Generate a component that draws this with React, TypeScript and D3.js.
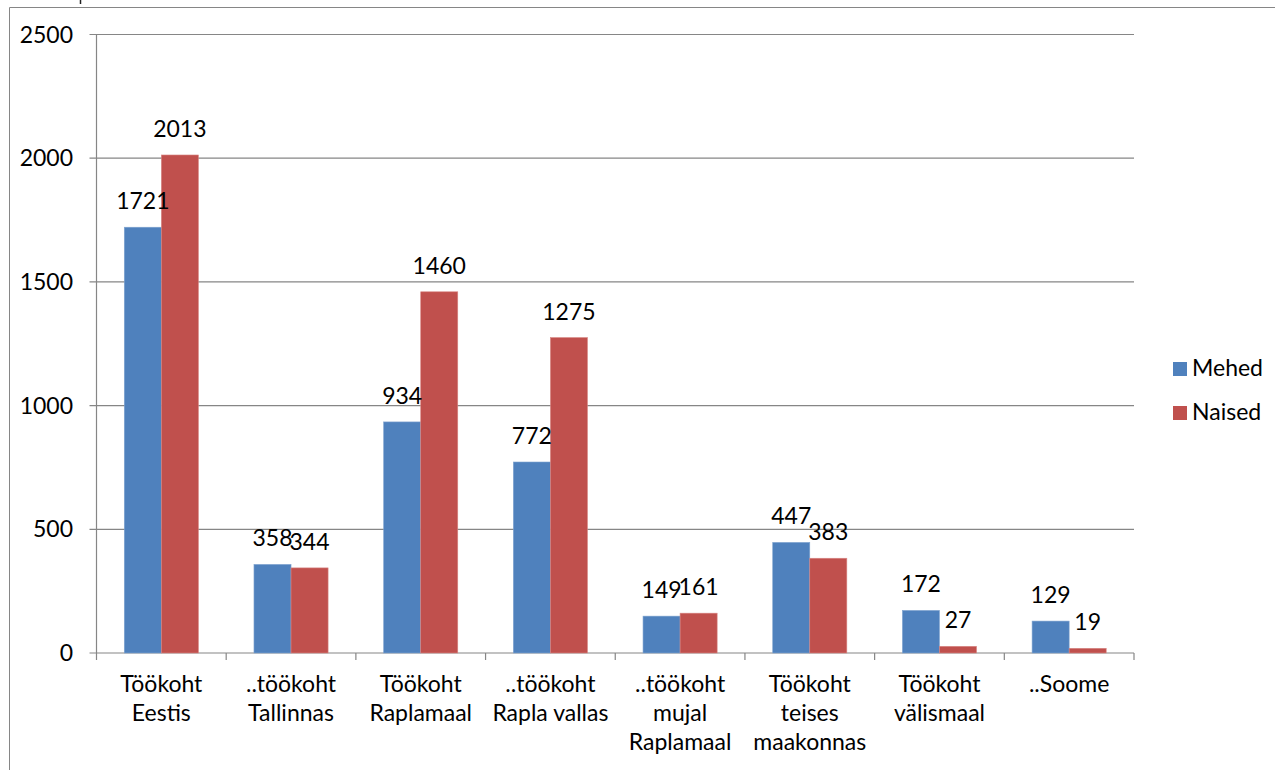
import React from "react";
import * as d3 from "d3";

const categories: string[][] = [
  ["Töökoht", "Eestis"],
  ["..töökoht", "Tallinnas"],
  ["Töökoht", "Raplamaal"],
  ["..töökoht", "Rapla vallas"],
  ["..töökoht", "mujal", "Raplamaal"],
  ["Töökoht", "teises", "maakonnas"],
  ["Töökoht", "välismaal"],
  ["..Soome"],
];
const mehed = [1721, 358, 934, 772, 149, 447, 172, 129];
const naised = [2013, 344, 1460, 1275, 161, 383, 27, 19];
const seriesNames = ["Mehed", "Naised"];
const seriesColors = ["#4F81BD", "#C0504D"];
const yTicks = [0, 500, 1000, 1500, 2000, 2500];

const W = 1275;
const H = 770;
const left = 96.5;
const right = 1134;
const top = 34.5;
const bottom = 653;
const FONT = "Lato, 'Open Sans', sans-serif";
const FS = 23;
const AX = "#868686";

export default function App() {
  const x = d3
    .scaleBand<number>()
    .domain(d3.range(categories.length))
    .range([left, right])
    .paddingInner(0)
    .paddingOuter(0);
  const y = d3.scaleLinear().domain([0, 2500]).range([bottom, top]);
  const bw = x.bandwidth();
  const group = (bw * 2) / 3.5;
  const inner = d3
    .scaleBand<number>()
    .domain([0, 1])
    .range([bw * 0.75 / 3.5, bw * 0.75 / 3.5 + group]);
  const series = [mehed, naised];

  return (
    <svg
      width={W}
      height={H}
      style={{ position: "absolute", left: 0, top: 0, background: "#fff" }}
      fontFamily={FONT}
    >
      <rect x={0} y={0} width={W} height={H} fill="#fff" />
      {/* outer frame */}
      <path d={`M9.5,${H + 5} V7.5 H${W + 5}`} fill="none" stroke={AX} strokeWidth={1} />
      <line x1={80.5} x2={80.5} y1={0} y2={4} stroke="#222" strokeWidth={1.5} />

      {/* gridlines and y ticks */}
      {yTicks.map((t) => (
        <g key={t}>
          <line x1={left - 7} x2={right} y1={y(t)} y2={y(t)} stroke={AX} strokeWidth={1.2} />
          <text x={73} y={y(t) + 8} textAnchor="end" fontSize={FS} fill="#000">
            {t}
          </text>
        </g>
      ))}
      {/* y axis */}
      <line x1={left} x2={left} y1={top} y2={bottom} stroke={AX} strokeWidth={1.2} />
      {/* category ticks */}
      {d3.range(categories.length + 1).map((i) => {
        const xx = left + i * bw;
        return <line key={i} x1={xx} x2={xx} y1={bottom} y2={bottom + 7} stroke={AX} strokeWidth={1.2} />;
      })}

      {/* bars */}
      {series.map((vals, s) =>
        vals.map((v, i) => {
          const bx = (x(i) as number) + (inner(s) as number);
          return (
            <rect
              key={`b${s}-${i}`}
              x={bx}
              y={y(v)}
              width={inner.bandwidth()}
              height={bottom - y(v)}
              fill={seriesColors[s]}
              stroke={s === 0 ? "#7FA3CF" : "#D88784"}
              strokeWidth={0.6}
            />
          );
        })
      )}
      {/* value labels */}
      {series.map((vals, s) =>
        vals.map((v, i) => {
          const bx = (x(i) as number) + (inner(s) as number);
          return (
            <text
              key={`t${s}-${i}`}
              x={bx + inner.bandwidth() / 2}
              y={y(v) - 18}
              textAnchor="middle"
              fontSize={FS}
              fill="#000"
            >
              {v}
            </text>
          );
        })
      )}

      {/* category labels */}
      {categories.map((lines, i) => (
        <text key={i} textAnchor="middle" fontSize={FS} fill="#000">
          {lines.map((l, j) => (
            <tspan key={j} x={(x(i) as number) + bw / 2} y={692 + j * 29}>
              {l}
            </tspan>
          ))}
        </text>
      ))}

      {/* legend */}
      {seriesNames.map((n, s) => (
        <g key={n}>
          <rect x={1173} y={362 + s * 44} width={14} height={14} fill={seriesColors[s]} />
          <text x={1192} y={376 + s * 44} fontSize={FS} fill="#000">
            {n}
          </text>
        </g>
      ))}
    </svg>
  );
}
